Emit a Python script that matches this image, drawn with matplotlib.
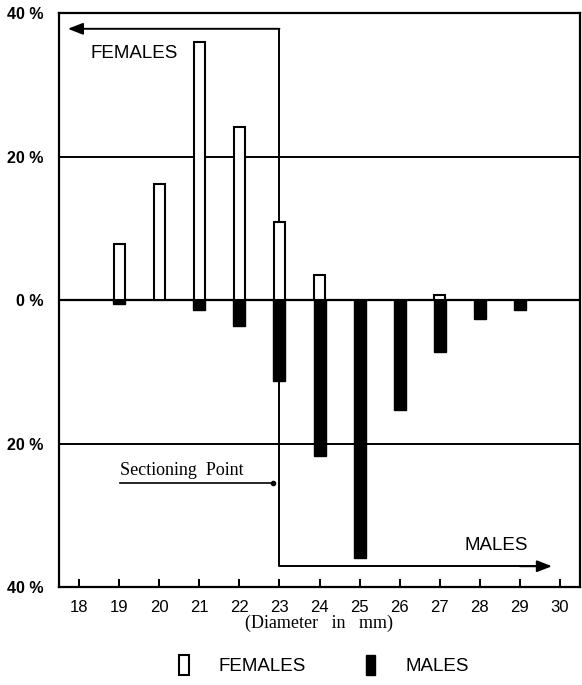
import matplotlib
matplotlib.use("Agg")
import matplotlib.pyplot as plt
from matplotlib.patches import Patch
import numpy as np

# diameter classes (mm) and percentage of each sex
diameter = [19, 20, 21, 22, 23, 24, 25, 26, 27, 28, 29]
females = [7.8, 16.2, 35.9, 24.1, 10.9, 3.5, 0.0, 0.0, 0.7, 0.0, 0.0]
males = [0.6, 0.0, 1.4, 3.6, 11.3, 21.8, 35.9, 15.3, 7.3, 2.7, 1.4]
xticks = list(range(18, 31))
yticks = [-40, -20, 0, 20, 40]
ylabels = ['40 %', '20 %', '0 %', '20 %', '40 %']
section = 23

fig = plt.figure(figsize=(5.82, 6.85), dpi=100)
ax = fig.add_axes([0.1014, 0.143, 0.8952, 0.838])

sans = 'Liberation Sans'
serif = 'Liberation Serif'

x = np.array(diameter)
fem = np.array(females)
mal = np.array(males)

ax.axhline(0, color='k', lw=1.6, zorder=1)
ax.axhline(20, color='k', lw=1.4, zorder=1)
ax.axhline(-20, color='k', lw=1.4, zorder=1)

ax.bar(x[fem > 0], fem[fem > 0], width=0.28, color='white', edgecolor='k', linewidth=1.5, zorder=3)
ax.bar(x[mal > 0], -mal[mal > 0], width=0.3, color='k', edgecolor='k', linewidth=1.0, zorder=3)

# sectioning line with arrows
ax.plot([section, section, 29.6], [37.8, -37.1, -37.1], color='k', lw=1.4, zorder=2)
ax.annotate('', xy=(17.72, 37.8), xytext=(section, 37.8),
            arrowprops=dict(arrowstyle='-|>,head_length=0.9,head_width=0.35', color='k', lw=1.4, shrinkA=0, shrinkB=0))
ax.annotate('', xy=(29.8, -37.1), xytext=(29.0, -37.1),
            arrowprops=dict(arrowstyle='-|>,head_length=0.9,head_width=0.35', color='k', lw=1.4, shrinkA=0, shrinkB=0))
ax.text(19.38, 34.4, 'FEMALES', ha='center', va='center', fontsize=13.5, family=sans)
ax.text(28.4, -34.2, 'MALES', ha='center', va='center', fontsize=13.5, family=sans)

ax.text(19.02, -25.0, 'Sectioning  Point', ha='left', va='bottom', fontsize=13, family=serif)
ax.plot([19.02, 22.85], [-25.5, -25.5], color='k', lw=1.2, zorder=2)
ax.plot([22.85], [-25.5], 'ko', ms=3, zorder=2)

ax.set_xlim(17.5, 30.5)
ax.set_ylim(-40, 40)
ax.set_xticks(xticks)
ax.set_xticklabels([str(t) for t in xticks], fontsize=12, family=sans)
ax.set_yticks(yticks)
ax.set_yticklabels(ylabels, fontsize=11.5, family=sans, fontweight='bold')
ax.tick_params(axis='x', direction='in', length=6, width=1.4, pad=9)
ax.tick_params(axis='y', length=0, pad=11)
for s in ax.spines.values():
    s.set_linewidth(1.6)

fig.text(0.5485, 0.0905, '(Diameter   in   mm)', ha='center', va='center', fontsize=13, family=serif)

handles = [Patch(facecolor='white', edgecolor='k', linewidth=1.5),
           Patch(facecolor='k', edgecolor='k')]
fig.legend(handles, ['FEMALES', 'MALES'], loc='center', bbox_to_anchor=(0.557, 0.029), ncol=2,
           frameon=False, handlelength=0.5, handleheight=1.3, handletextpad=1.6, columnspacing=3.2,
           prop={'family': sans, 'size': 13.5})

fig.savefig('out.png', dpi=100)
